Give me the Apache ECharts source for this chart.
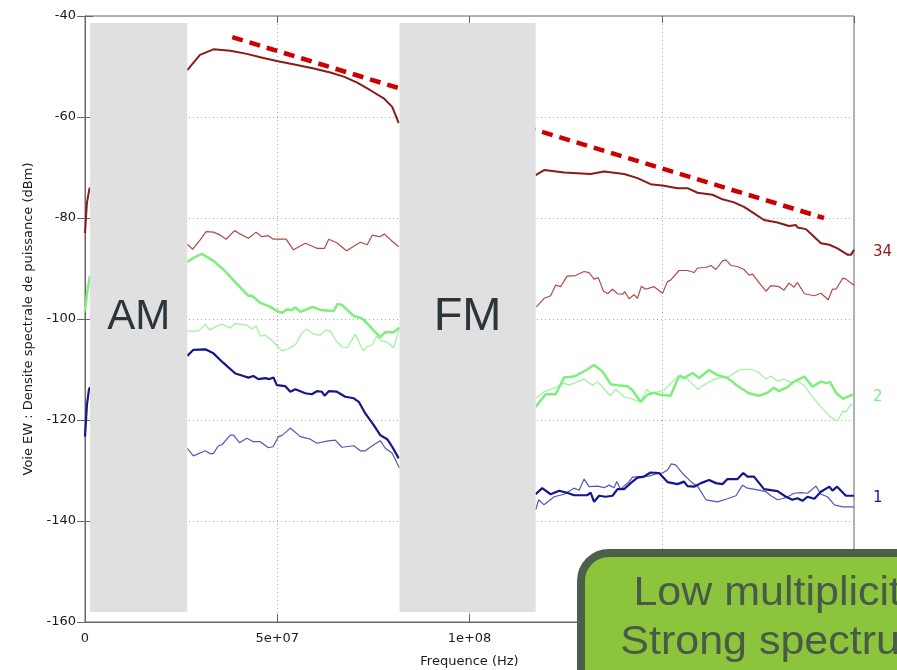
<!DOCTYPE html>
<html>
<head>
<meta charset="utf-8">
<script src="https://cdn.jsdelivr.net/npm/echarts@6/dist/echarts.min.js"></script>
<style>
  html, body { margin: 0; padding: 0; background: #ffffff; }
  #chart { width: 897px; height: 670px; }
</style>
</head>
<body>
<div id="chart"></div>
<script>
// Power spectral density, EW channel. Frequencies in MHz, levels in dBm.
// Each curve is a list of segments; segments are drawn with a break between them.

const thick34 = [
  [[0, -83.0], [0.5, -77.0], [1.2, -74.0]],
  [[26.6, -50.7], [29.9, -47.7], [33.4, -46.6], [37.8, -46.9], [42.1, -47.5], [46.4, -48.3], [49.9, -48.9],
   [55.1, -49.7], [59.5, -50.4], [63.8, -51.2], [67.3, -52.0], [70.8, -53.2], [74.2, -54.7], [77.7, -56.3],
   [79.9, -58.0], [81.6, -61.2]],
  [[117.2, -71.5], [119.4, -70.5], [124.6, -71.0], [131.5, -71.3], [135.0, -70.8], [140.2, -71.3], [143.7, -72.1],
   [147.1, -73.3], [150.6, -73.6], [154.1, -74.1], [156.7, -74.1], [159.3, -75.0], [163.2, -75.4], [165.8, -76.3],
   [168.8, -76.9], [171.4, -77.8], [174.0, -79.1], [176.6, -80.4], [180.1, -80.9], [183.1, -81.6], [184.9, -81.4],
   [185.3, -81.9], [187.5, -82.2], [189.2, -83.4], [191.4, -85.0], [193.6, -85.3], [195.7, -86.0], [198.4, -87.3],
   [199.2, -87.3], [200.0, -86.3]]
];

const thin34 = [
  [[26.6, -85.2], [28.0, -86.2], [29.9, -84.4], [31.5, -82.7], [33.4, -82.8], [35.2, -83.4], [36.7, -84.2],
   [38.9, -82.5], [40.4, -83.2], [42.5, -84.0], [44.5, -82.8], [46.0, -83.7], [47.7, -83.5], [49.0, -84.2],
   [52.3, -84.2], [54.2, -86.3], [57.3, -85.0], [60.3, -86.0], [62.3, -86.0], [63.4, -84.2], [65.5, -84.9],
   [68.0, -86.5], [71.6, -84.8], [73.4, -85.3], [74.7, -83.4], [76.6, -83.7], [77.9, -83.2], [79.9, -84.6],
   [81.6, -85.7]],
  [[117.4, -97.6], [119.4, -95.9], [121.1, -95.4], [122.4, -93.3], [123.7, -93.6], [125.4, -91.5], [127.6, -91.4],
   [129.8, -90.6], [131.1, -90.8], [132.4, -92.1], [133.5, -91.8], [134.8, -94.4], [135.9, -95.0], [137.2, -94.1],
   [138.5, -95.0], [139.8, -95.1], [140.4, -94.6], [141.5, -96.0], [142.8, -95.2], [143.7, -95.9], [144.7, -93.5],
   [145.8, -94.1], [148.0, -93.6], [150.2, -94.9], [151.5, -92.6], [152.3, -92.3], [154.5, -90.4], [156.7, -90.4],
   [158.4, -90.8], [159.3, -89.9], [161.5, -89.8], [162.8, -89.4], [164.1, -90.2], [165.8, -88.5], [166.7, -88.3],
   [168.0, -89.4], [169.7, -89.6], [171.4, -90.2], [172.7, -91.3], [173.6, -91.1], [175.3, -92.8], [177.1, -94.5],
   [178.4, -93.4], [180.5, -93.6], [181.8, -94.3], [183.1, -92.9], [184.4, -93.7], [185.3, -92.8], [187.1, -95.0],
   [189.7, -95.4], [191.4, -94.9], [193.3, -96.2], [194.4, -94.1], [195.3, -94.1], [197.1, -91.9], [197.9, -92.1],
   [200.0, -93.3]]
];

const thick2 = [
  [[0, -98.5], [0.6, -94.5], [1.3, -91.5]],
  [[26.6, -88.7], [28.2, -87.9], [30.4, -87.1], [33.4, -88.5], [36.0, -90.2], [38.6, -92.3], [40.8, -94.1],
   [42.5, -95.4], [43.4, -95.4], [45.6, -96.8], [48.2, -97.6], [49.9, -98.4], [51.2, -98.8], [52.5, -98.1],
   [53.8, -98.2], [54.7, -97.7], [56.0, -98.6], [57.3, -98.2], [59.2, -97.6], [61.2, -98.2], [64.7, -98.4],
   [65.7, -97.0], [66.8, -97.2], [68.2, -98.2], [69.9, -99.4], [72.1, -99.9], [73.8, -101.2], [75.1, -102.3],
   [76.8, -103.6], [78.1, -102.6], [80.3, -102.6], [81.8, -101.7]],
  [[117.2, -117.4], [119.8, -114.9], [122.4, -114.9], [124.6, -111.6], [127.2, -111.4], [130.2, -110.2],
   [132.4, -109.1], [134.6, -110.4], [136.7, -112.9], [138.5, -113.1], [141.1, -113.3], [142.4, -114.1],
   [144.5, -116.4], [146.3, -115.0], [148.0, -114.6], [149.7, -115.0], [152.3, -115.2], [154.5, -111.3],
   [155.8, -111.7], [158.0, -110.7], [159.7, -111.7], [162.3, -110.1], [164.5, -111.1], [167.1, -111.7],
   [168.8, -112.7], [170.6, -113.7], [172.7, -114.7], [175.3, -115.2], [177.5, -114.6], [179.2, -113.6],
   [180.5, -114.3], [182.7, -113.5], [184.4, -112.4], [187.1, -111.4], [189.2, -113.4], [191.4, -112.4],
   [192.7, -112.7], [193.8, -112.5], [195.3, -114.6], [197.1, -115.8], [198.8, -115.2], [200.0, -115.0]]
];

const thin2 = [
  [[26.6, -102.4], [29.5, -102.4], [31.3, -101.0], [32.4, -102.2], [34.3, -101.4], [35.6, -101.0], [37.8, -101.8],
   [39.1, -100.9], [42.1, -101.2], [43.4, -102.0], [44.5, -101.4], [45.6, -103.4], [46.9, -103.2], [49.0, -104.5],
   [51.2, -106.3], [52.9, -105.9], [54.7, -105.1], [56.4, -102.8], [57.7, -102.0], [59.5, -103.0], [61.2, -103.2],
   [62.5, -102.2], [63.8, -102.4], [65.5, -104.5], [66.8, -105.5], [68.2, -105.7], [70.3, -103.0], [72.3, -106.3],
   [73.4, -105.5], [74.7, -105.1], [75.8, -103.4], [77.3, -104.4], [78.4, -104.5], [80.3, -105.7], [81.8, -101.8]],
  [[117.2, -115.7], [119.4, -114.4], [122.0, -113.7], [124.6, -112.7], [125.9, -113.1], [127.6, -112.6],
   [129.8, -111.9], [132.0, -113.1], [133.3, -112.4], [135.4, -114.2], [136.7, -115.2], [138.0, -113.9],
   [140.2, -115.4], [142.4, -115.9], [144.5, -116.4], [146.1, -113.9], [147.3, -114.7], [148.9, -114.4],
   [150.6, -114.1], [153.2, -112.1], [154.9, -111.1], [156.7, -111.9], [159.3, -113.9], [161.9, -112.6],
   [164.5, -111.7], [167.5, -111.4], [170.1, -110.1], [172.7, -109.9], [174.9, -110.4], [177.1, -111.9],
   [178.4, -111.3], [180.1, -112.3], [181.8, -111.9], [183.6, -112.6], [185.3, -112.3], [187.1, -113.2],
   [189.2, -115.4], [191.4, -117.4], [193.6, -119.2], [195.7, -120.2], [197.1, -118.2], [197.9, -118.4],
   [199.2, -116.9], [200.0, -116.9]]
];

const thick1 = [
  [[0, -123.3], [0.5, -117.0], [1.0, -114.1], [1.3, -113.5]],
  [[26.6, -107.3], [28.2, -106.1], [31.3, -106.0], [33.4, -106.8], [36.0, -108.7], [39.1, -110.8], [41.2, -111.3],
   [42.5, -111.6], [43.8, -111.3], [45.1, -111.9], [46.9, -111.7], [48.0, -111.9], [49.0, -111.6], [49.9, -113.1],
   [52.1, -113.3], [53.4, -114.4], [54.7, -113.9], [57.3, -114.7], [59.0, -114.9], [60.3, -114.3], [61.6, -114.4],
   [62.3, -115.2], [63.4, -114.3], [65.5, -114.4], [67.7, -115.4], [69.9, -115.7], [71.2, -116.4], [72.9, -118.7],
   [75.1, -121.0], [76.8, -123.0], [78.6, -123.8], [79.9, -125.3], [81.6, -127.6]],
  [[117.2, -134.7], [118.9, -133.5], [121.1, -134.7], [123.3, -134.0], [125.4, -134.4], [127.2, -134.9],
   [130.6, -134.9], [131.5, -134.4], [132.4, -136.2], [133.7, -135.0], [135.4, -135.2], [137.2, -135.0],
   [138.5, -133.7], [140.2, -133.7], [141.9, -132.5], [143.7, -131.4], [145.4, -131.2], [147.1, -130.4],
   [149.3, -130.5], [151.5, -132.3], [154.1, -132.7], [155.8, -132.2], [156.7, -133.1], [158.4, -133.2],
   [160.2, -132.5], [162.3, -131.9], [164.1, -132.5], [165.8, -132.7], [167.1, -131.7], [169.7, -131.7],
   [171.2, -130.5], [172.3, -131.2], [174.0, -131.2], [176.6, -133.7], [180.1, -134.1], [182.3, -135.2],
   [184.0, -135.8], [185.3, -135.5], [186.6, -136.0], [187.9, -135.2], [189.7, -135.6], [191.4, -134.2],
   [193.6, -133.2], [194.4, -134.0], [195.6, -133.2], [197.9, -135.0], [200.0, -135.0]]
];

const thin1 = [
  [[26.6, -125.6], [28.2, -127.1], [31.3, -126.1], [32.6, -126.7], [33.4, -126.6], [34.7, -125.1], [35.6, -124.9],
   [37.8, -123.0], [38.6, -123.0], [40.2, -124.5], [42.1, -123.6], [43.8, -124.3], [45.6, -124.3], [47.7, -125.5],
   [48.9, -125.3], [50.3, -123.3], [51.2, -123.1], [53.4, -121.6], [56.0, -123.3], [58.6, -123.8], [60.3, -124.6],
   [62.9, -124.2], [65.1, -124.0], [66.8, -125.4], [69.9, -125.1], [71.6, -126.1], [72.9, -126.1], [75.1, -124.9],
   [76.8, -124.1], [78.1, -125.6], [79.9, -126.6], [81.2, -128.6], [81.8, -129.5]],
  [[117.2, -137.8], [118.0, -135.8], [119.4, -136.8], [122.0, -135.2], [124.6, -134.7], [127.2, -133.5],
   [128.5, -133.9], [129.8, -131.7], [131.1, -133.2], [133.3, -133.1], [135.0, -133.4], [136.3, -132.9],
   [137.6, -133.4], [138.3, -132.2], [139.3, -133.7], [141.5, -132.2], [142.4, -131.3], [144.5, -131.2],
   [146.7, -131.1], [148.4, -130.7], [150.2, -130.5], [151.5, -129.9], [152.5, -128.7], [153.6, -128.9],
   [155.8, -130.9], [158.0, -132.5], [159.3, -133.1], [161.5, -135.8], [164.5, -136.2], [167.1, -135.6],
   [169.3, -135.0], [171.0, -132.9], [172.3, -133.5], [175.3, -133.9], [177.1, -134.2], [178.4, -135.0],
   [180.1, -135.8], [182.3, -135.4], [184.4, -134.5], [186.2, -134.4], [187.9, -134.5], [190.1, -133.1],
   [191.4, -134.7], [193.1, -135.2], [194.9, -136.8], [197.1, -137.2], [200.0, -137.2]]
];

// Slope guide (dashed) over the strongest curve
const trendFreq = [38.3, 192.2];
const trendLevel = [-44.2, -80.0];

// Occupied broadcast bands, masked out
const bandNames = ['AM', 'FM'];
const bandStart = [1.3, 81.8];
const bandEnd = [26.6, 117.2];
const bandTop = -41.4;
const bandBottom = -158.0;
const bandLabelLevel = -99.6;
const bandFontSize = [42, 47];

// Axis ranges / ticks
const freqMin = 0, freqMax = 2e8, freqStep = 5e7;
const levelMin = -160, levelMax = -40, levelStep = 20;

// Curve end labels
const curveNames = ['34', '2', '1'];

// Callout text
const calloutLines = ['Low multiplicity', 'Strong spectrum'];

const MHZ = 1e6;
function toSeriesData(segments) {
  const out = [];
  segments.forEach((seg, i) => {
    if (i > 0) out.push(['-', '-']);
    seg.forEach(p => out.push([p[0] * MHZ, p[1]]));
  });
  return out;
}

function sciLabel(v) {
  if (v === 0) return '0';
  const e = Math.floor(Math.log10(Math.abs(v)) + 1e-9);
  const m = +(v / Math.pow(10, e)).toFixed(3);
  return m + 'e+' + String(e).padStart(2, '0');
}

const FONT = 'DejaVu Sans';
const TEXT = '#1a1a1a';

function lineSeries(segments, color, width, z, endName) {
  const s = {
    type: 'line',
    data: toSeriesData(segments),
    showSymbol: false,
    symbol: 'none',
    connectNulls: false,
    z: z,
    lineStyle: { color: color, width: width },
    itemStyle: { color: color },
    emphasis: { disabled: true },
    animation: false
  };
  if (endName) {
    s.endLabel = {
      show: true,
      formatter: endName,
      distance: 19,
      offset: [0, 2],
      color: color,
      fontFamily: FONT,
      fontSize: 15
    };
  }
  return s;
}

const chart = echarts.init(document.getElementById('chart'), null, { renderer: 'canvas' });

chart.setOption({
  animation: false,
  backgroundColor: '#ffffff',
  grid: {
    left: 85, right: 43, top: 16, bottom: 48,
    containLabel: false,
    outerBoundsMode: 'none',
    show: true, borderColor: '#666666', borderWidth: 1, backgroundColor: 'transparent'
  },
  xAxis: [
    {
      type: 'value', min: freqMin, max: freqMax, interval: freqStep,
      name: 'Frequence (Hz)', nameLocation: 'middle', nameGap: 33,
      nameTextStyle: { fontFamily: FONT, fontSize: 13, color: TEXT },
      axisLine: { show: true, lineStyle: { color: '#666666', width: 1 } },
      axisTick: { show: true, inside: true, length: 8, lineStyle: { color: '#666666' } },
      axisLabel: { fontFamily: FONT, fontSize: 13, color: TEXT, margin: 10, formatter: sciLabel },
      splitLine: { show: true, lineStyle: { color: '#aaaaaa', width: 1, type: [1, 3] } }
    },
    {
      type: 'value', position: 'top', min: freqMin, max: freqMax, interval: freqStep,
      axisLine: { show: false },
      axisTick: { show: true, inside: true, length: 7, lineStyle: { color: '#666666' } },
      axisLabel: { show: false },
      splitLine: { show: false }
    }
  ],
  yAxis: [
    {
      type: 'value', min: levelMin, max: levelMax, interval: levelStep,
      name: 'Voie EW : Densite spectrale de puissance (dBm)', nameLocation: 'middle', nameGap: 47,
      nameTextStyle: { fontFamily: FONT, fontSize: 13, color: TEXT },
      axisLine: { show: true, lineStyle: { color: '#666666', width: 1 } },
      axisTick: { show: true, inside: true, length: 8, lineStyle: { color: '#666666' } },
      axisLabel: { fontFamily: FONT, fontSize: 13, color: TEXT, margin: 9 },
      splitLine: { show: true, lineStyle: { color: '#aaaaaa', width: 1, type: [1, 3] } }
    },
    {
      type: 'value', position: 'right', min: levelMin, max: levelMax, interval: levelStep,
      axisLine: { show: false },
      axisTick: { show: true, inside: true, length: 8, lineStyle: { color: '#666666' } },
      axisLabel: { show: false },
      splitLine: { show: false }
    }
  ],
  series: [
    lineSeries(thin34, '#b24a4a', 1.2, 2),
    lineSeries(thick34, '#8b1a1a', 2, 3, curveNames[0]),
    lineSeries(thin2, '#9cf39c', 1.2, 2),
    lineSeries(thick2, '#7def7d', 2.5, 3, curveNames[1]),
    lineSeries(thin1, '#5555b8', 1.2, 2),
    lineSeries(thick1, '#16168c', 2.2, 3, curveNames[2]),
    {
      type: 'line',
      data: trendFreq.map((f, i) => [f * MHZ, trendLevel[i]]),
      showSymbol: false,
      symbol: 'none',
      z: 4,
      lineStyle: { color: '#cc0000', width: 4.5, type: [11, 7] },
      emphasis: { disabled: true },
      animation: false
    },
    {
      type: 'custom',
      z: 20,
      silent: true,
      animation: false,
      data: bandNames.map((n, i) => [bandStart[i] * MHZ, bandEnd[i] * MHZ, bandTop, bandBottom]),
      encode: { x: [0, 1], y: [2, 3] },
      renderItem: function (params, api) {
        const i = params.dataIndex;
        const p0 = api.coord([api.value(0), api.value(2)]);
        const p1 = api.coord([api.value(1), api.value(3)]);
        const pc = api.coord([(api.value(0) + api.value(1)) / 2, bandLabelLevel]);
        return {
          type: 'group',
          children: [
            {
              type: 'rect',
              shape: { x: p0[0], y: p0[1], width: p1[0] - p0[0], height: p1[1] - p0[1] },
              style: { fill: '#e0e0e0' }
            },
            {
              type: 'text',
              x: pc[0], y: pc[1],
              style: {
                text: bandNames[i],
                fill: '#2b363c',
                font: bandFontSize[i] + 'px "Liberation Sans"',
                align: 'center',
                verticalAlign: 'middle'
              }
            }
          ]
        };
      }
    }
  ],
  graphic: [
    {
      type: 'rect', z: 100, silent: true,
      shape: { x: 581, y: 553, width: 360, height: 180, r: 28 },
      style: { fill: '#8cc43c', stroke: '#4b5f4b', lineWidth: 8 }
    },
    {
      type: 'text', z: 101, silent: true, x: 778, y: 594, scaleX: 1.075,
      style: { text: calloutLines[0], fill: '#485a48', font: '40px "Liberation Sans"', align: 'center', verticalAlign: 'middle' }
    },
    {
      type: 'text', z: 101, silent: true, x: 778, y: 643, scaleX: 1.075,
      style: { text: calloutLines[1], fill: '#485a48', font: '40px "Liberation Sans"', align: 'center', verticalAlign: 'middle' }
    }
  ]
});
</script>
</body>
</html>
